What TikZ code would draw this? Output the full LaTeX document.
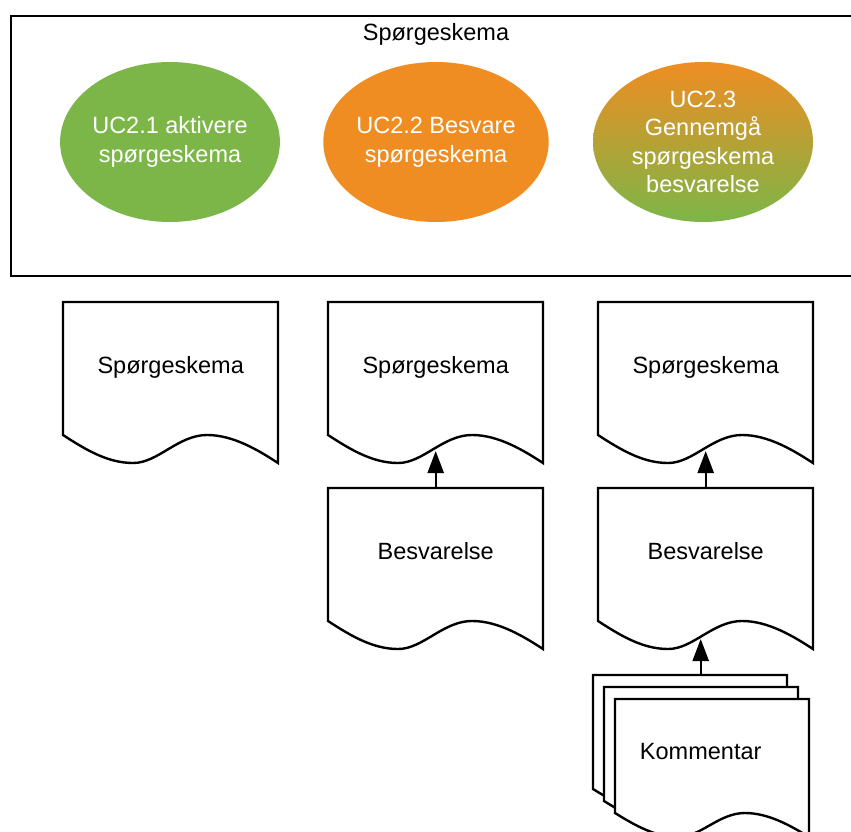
\documentclass[tikz,border=0pt]{standalone}
\usepackage{fontspec}
\setmainfont{Liberation Sans}
\usetikzlibrary{arrows.meta,shapes.geometric,calc}
\definecolor{ucgreen}{RGB}{124,182,72}
\definecolor{ucorange}{RGB}{239,141,34}
\pgfdeclarelayer{bg}
\pgfsetlayers{bg,main}
\tikzset{
  docline/.style={line width=2.4pt, draw=black, fill=white, line join=miter},
  docnode/.style={inner sep=0pt, minimum width=215pt, text height=71pt, text depth=90pt,
    anchor=north west, font=\fontsize{23.5}{28}\selectfont},
  uc/.style={ellipse, minimum width=214pt, minimum height=160pt, inner sep=0pt,
    text=white, align=center, font=\fontsize{23.5}{28.5}\selectfont},
  conn/.style={line width=2.4pt, -{Triangle[length=22pt,width=16pt]}},
  frame/.style={draw, line width=2.4pt, inner sep=0pt, anchor=north west}
}
% #1 origin (top-left corner), #2 width, #3 height
\newcommand\docoutline[3]{%
  \begin{scope}[shift={#1}, x=#2pt, y=-#3pt]
    \path[docline] (0,0.826) -- (0,0) -- (1,0) -- (1,1)
      .. controls (0.907,0.919) and (0.791,0.826) .. (0.67,0.826)
      .. controls (0.535,0.826) and (0.442,1) .. (0.326,1)
      .. controls (0.209,1) and (0.107,0.919) .. cycle;
  \end{scope}}
\begin{document}
\begin{tikzpicture}[x=1pt, y=-1pt]
  \useasboundingbox (0,0) rectangle (851,831);
  \clip (0,0) rectangle (851,831);

  % container
  \node[frame, minimum width=880pt, minimum height=260pt] (frame) at (10,15) {};
  \node[anchor=base, font=\fontsize{23.5}{28}\selectfont] (title) at (436,40) {Spørgeskema};

  % use cases
  \node[uc, fill=ucgreen] (uc1) at (170,142) {UC2.1 aktivere\\spørgeskema};
  \node[uc, fill=ucorange] (uc2) at (436,142) {UC2.2 Besvare\\spørgeskema};
  \node[uc, top color=ucorange, bottom color=ucgreen, minimum width=220pt] (uc3) at (703,142)
    {UC2.3\\Gennemgå\\spørgeskema\\besvarelse};

  % documents
  \node[docnode] (d1) at (63,302) {Spørgeskema};
  \node[docnode] (d2) at (328,302) {Spørgeskema};
  \node[docnode] (d3) at (598,302) {Spørgeskema};
  \node[docnode] (b2) at (328,488) {Besvarelse};
  \node[docnode] (b3) at (598,488) {Besvarelse};
  \node[docnode, text height=84pt, text depth=78pt] (kom) at (593,675) {Kommentar};

  \begin{pgfonlayer}{bg}
    \fill[white] (0,0) rectangle (851,831);
    \docoutline{(d1.north west)}{215}{161}
    \docoutline{(d2.north west)}{215}{161}
    \docoutline{(d3.north west)}{215}{161}
    \docoutline{(b2.north west)}{215}{161}
    \docoutline{(b3.north west)}{215}{161}
    \docoutline{(kom.north west)}{194}{138}
    \docoutline{($(kom.north west)+(11,12)$)}{194}{138}
    \docoutline{($(kom.north west)+(22,24)$)}{194}{138}
  \end{pgfonlayer}

  % connectors
  \coordinate (d2tip) at ($(d2.north west)+(107.5,149)$);
  \coordinate (d3tip) at ($(d3.north west)+(107.5,149)$);
  \coordinate (b3tip) at ($(b3.north west)+(102,151)$);
  \draw[conn] (b2.north) -- (b2.north |- d2tip);
  \draw[conn] (b3.north) -- (b3.north |- d3tip);
  \draw[conn] (kom.north) -- (kom.north |- b3tip);
\end{tikzpicture}
\end{document}
